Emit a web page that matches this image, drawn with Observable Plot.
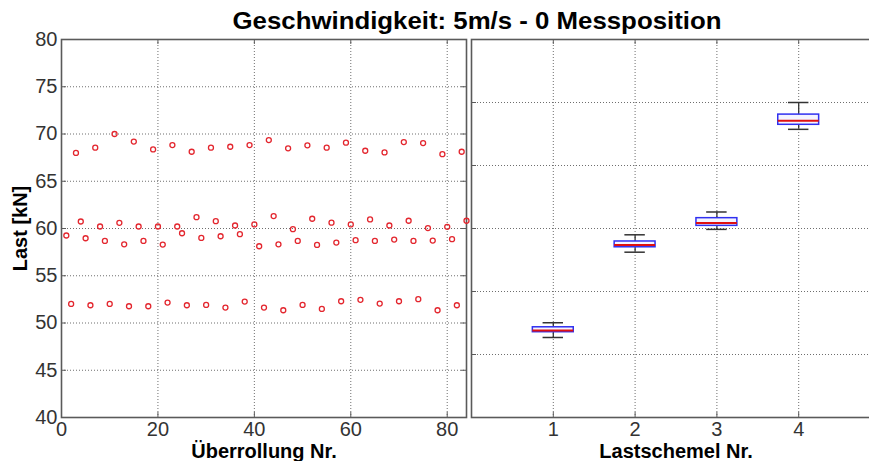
<!DOCTYPE html>
<html>
<head>
<meta charset="utf-8">
<script src="https://cdn.jsdelivr.net/npm/d3@7"></script>
<script src="https://cdn.jsdelivr.net/npm/@observablehq/plot@0.6"></script>
<style>
  html, body { margin: 0; padding: 0; background: #fff; }
  #fig { position: relative; width: 869px; height: 461px; overflow: hidden; background: #fff;
         font-family: "Liberation Sans", Arial, sans-serif; }
  #title { position: absolute; top: 7px; left: 0; width: 954px; text-align: center;
           font-weight: bold; font-size: 24px; color: #000; white-space: nowrap;
           transform: scaleX(1.075); transform-origin: 477px 0; }
  .panel { position: absolute; top: 0; }
  .panel svg { overflow: visible; max-width: none; }
  .panel g[aria-label$="axis label"] text { font-weight: bold; fill: #000; font-size: 20px; }
</style>
</head>
<body>
<div id="fig">
  <div id="title">Geschwindigkeit: 5m/s - 0 Messposition</div>
  <div id="left" class="panel" style="left:0px; width:470px"></div>
  <div id="right" class="panel" style="left:466px; width:420px"></div>
</div>
<script>
// Measured load per run (kN), grouped by load scheme ("Lastschemel").
// The schemes alternate run by run; firstRun gives the run where each starts.
const schemel = [1, 2, 3, 4];
const firstRun = [2, 1, 4, 3];
const schemeCount = 4;

const lastSchemel1 = [52.02, 51.88, 52.02, 51.77, 51.77, 52.16, 51.88, 51.91, 51.63, 52.27, 51.63,
                      51.35, 51.91, 51.49, 52.30, 52.45, 52.06, 52.30, 52.52, 51.35, 51.88];
const lastSchemel2 = [59.26, 58.97, 58.69, 58.33, 58.69, 58.30, 59.50, 59.00, 59.18, 59.40, 58.12,
                      58.33, 58.69, 58.26, 58.51, 58.76, 58.69, 58.83, 58.69, 58.72, 58.87];
const lastSchemel3 = [60.74, 60.21, 60.60, 60.21, 60.21, 60.21, 61.20, 60.78, 60.32, 60.43, 61.31,
                      59.93, 61.03, 60.62, 60.43, 60.96, 60.32, 60.82, 60.04, 60.18, 60.82];
const lastSchemel4 = [68.00, 68.55, 70.00, 69.20, 68.37, 68.83, 68.12, 68.55, 68.65, 68.83, 69.36,
                      68.48, 68.80, 68.55, 69.08, 68.23, 68.05, 69.15, 69.04, 67.87, 68.12];

// Axis ticks
const runTicks = [0, 20, 40, 60, 80];
const lastTicks = [40, 45, 50, 55, 60, 65, 70, 75, 80];
const boxLastTicks = [45, 50, 55, 60, 65, 70, 75];
const schemelTicks = [1, 2, 3, 4];

const series = [lastSchemel1, lastSchemel2, lastSchemel3, lastSchemel4];

// One record per run for the scatter panel
const runs = series.flatMap((vals, i) =>
  vals.map((last, k) => ({run: firstRun[i] + k * schemeCount, last, schemel: schemel[i]})));

// Box plot statistics (quartiles, 1.5·IQR whiskers) for each scheme
const boxes = series.map((vals, i) => {
  const v = d3.sort(vals);
  const q1 = d3.quantile(v, 0.25), med = d3.quantile(v, 0.5), q3 = d3.quantile(v, 0.75);
  const iqr = q3 - q1;
  return {
    schemel: schemel[i], q1, med, q3,
    lo: d3.min(v.filter(d => d >= q1 - 1.5 * iqr)),
    hi: d3.max(v.filter(d => d <= q3 + 1.5 * iqr))
  };
});

const font = {fontFamily: '"Liberation Sans", Arial, sans-serif', fontSize: "20px", color: "#333", background: "transparent"};
const gridStyle = {stroke: "#555", strokeOpacity: 0.85, strokeWidth: 1, strokeDasharray: "1,2"};
const axisStroke = "#5a5a5a";
const tickLen = 5;

// Left panel: load per run
const L = {width: 470, height: 461, ml: 61, mr: 4, mt: 39, mb: 44};
const LW = L.width - L.ml - L.mr, LH = L.height - L.mt - L.mb;
const left = Plot.plot({
  width: L.width, height: L.height,
  marginLeft: L.ml, marginRight: L.mr, marginTop: L.mt, marginBottom: L.mb,
  style: font,
  x: {domain: [0, 84], ticks: runTicks, tickFormat: "d", tickSize: 0, tickPadding: 4,
      label: "Überrollung Nr.", labelAnchor: "center", labelOffset: 40, labelArrow: "none"},
  y: {domain: [40, 80], ticks: lastTicks, tickFormat: "d", tickSize: 0, tickPadding: 4,
      label: "Last [kN]", labelAnchor: "center", labelOffset: 49, labelArrow: "none"},
  marks: [
    Plot.gridX(runTicks.slice(1), gridStyle),
    Plot.gridY(lastTicks.slice(1, -1), gridStyle),
    Plot.tickY(lastTicks, {stroke: axisStroke, insetRight: LW - tickLen}),
    Plot.tickY(lastTicks, {stroke: axisStroke, insetLeft: LW - tickLen}),
    Plot.tickX(runTicks, {stroke: axisStroke, insetTop: LH - tickLen}),
    Plot.tickX(runTicks, {stroke: axisStroke, insetBottom: LH - tickLen}),
    Plot.frame({stroke: axisStroke, strokeWidth: 1.6}),
    Plot.dot(runs, {x: "run", y: "last", r: 2.5, stroke: "#e3262e", strokeWidth: 1.3})
  ]
});
document.getElementById("left").append(left);

// Right panel: box plot per load scheme
const R = {width: 420, height: 461, ml: 5, mr: 6, mt: 39, mb: 44};
const RW = R.width - R.ml - R.mr, RH = R.height - R.mt - R.mb;
const half = 0.25, cap = 0.125;
const right = Plot.plot({
  width: R.width, height: R.height,
  marginLeft: R.ml, marginRight: R.mr, marginTop: R.mt, marginBottom: R.mb,
  style: font,
  x: {domain: [0, 5], ticks: schemelTicks, tickFormat: "d", tickSize: 0, tickPadding: 4,
      label: "Lastschemel Nr.", labelAnchor: "center", labelOffset: 40, labelArrow: "none"},
  y: {domain: [45, 75], axis: null},
  marks: [
    Plot.gridX(schemelTicks, gridStyle),
    Plot.gridY(boxLastTicks.slice(1, -1), gridStyle),
    Plot.tickY(boxLastTicks, {stroke: axisStroke, insetRight: RW - tickLen}),
    Plot.tickY(boxLastTicks, {stroke: axisStroke, insetLeft: RW - tickLen}),
    Plot.tickX(schemelTicks, {stroke: axisStroke, insetTop: RH - tickLen}),
    Plot.tickX(schemelTicks, {stroke: axisStroke, insetBottom: RH - tickLen}),
    Plot.frame({stroke: axisStroke, strokeWidth: 1.6}),
    Plot.ruleX(boxes, {x: "schemel", y1: "q3", y2: "hi", stroke: "#333", strokeWidth: 1.3}),
    Plot.ruleX(boxes, {x: "schemel", y1: "lo", y2: "q1", stroke: "#333", strokeWidth: 1.3}),
    Plot.ruleY(boxes, {y: "hi", x1: d => d.schemel - cap, x2: d => d.schemel + cap, stroke: "#333", strokeWidth: 1.5}),
    Plot.ruleY(boxes, {y: "lo", x1: d => d.schemel - cap, x2: d => d.schemel + cap, stroke: "#333", strokeWidth: 1.5}),
    Plot.rect(boxes, {x1: d => d.schemel - half, x2: d => d.schemel + half, y1: "q1", y2: "q3",
                      fill: "#f4f4ff", stroke: "#3030f0", strokeWidth: 1.5}),
    Plot.ruleY(boxes, {y: "med", x1: d => d.schemel - half, x2: d => d.schemel + half, stroke: "#e01010", strokeWidth: 2})
  ]
});
document.getElementById("right").append(right);
</script>
</body>
</html>
